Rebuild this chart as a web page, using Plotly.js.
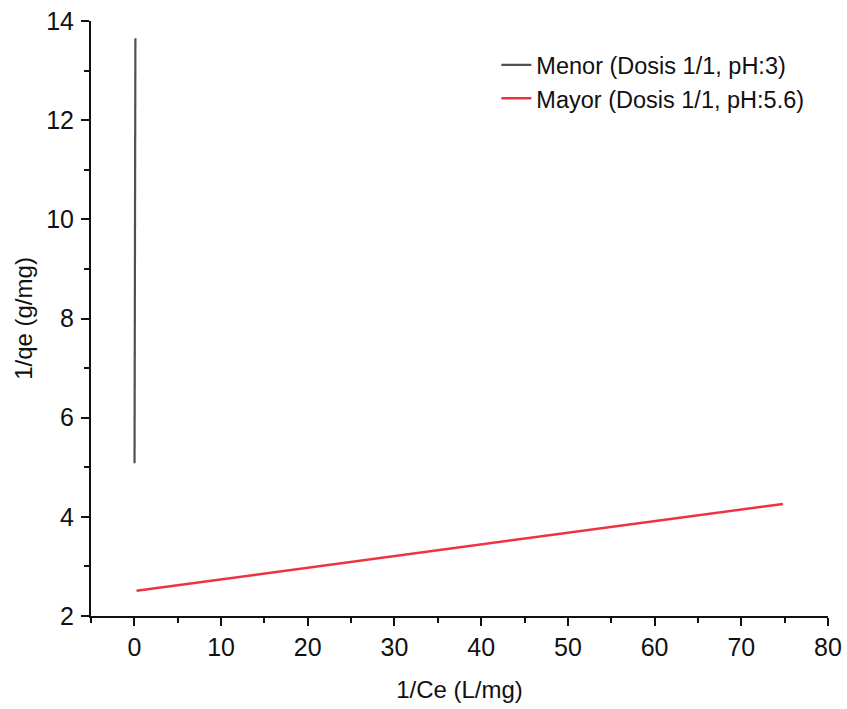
<!DOCTYPE html>
<html>
<head>
<meta charset="utf-8">
<script src="https://cdn.plot.ly/plotly-3.0.1.min.js"></script>
<style>html,body{margin:0;padding:0;background:#fff}#chart{width:847px;height:709px}</style>
</head>
<body>
<div id="chart"></div>
<script>
const seriesNames = ["Menor (Dosis 1/1, pH:3)", "Mayor (Dosis 1/1, pH:5.6)"];
const menorX = [0.02, 0.12];
const menorY = [5.08, 13.65];
const mayorX = [0.25, 74.8];
const mayorY = [2.51, 4.26];
const xTickVals = [0, 10, 20, 30, 40, 50, 60, 70, 80];
const yTickVals = [2, 4, 6, 8, 10, 12, 14];

const font = "Liberation Sans, Arial, sans-serif";
const traces = [
  {x: menorX, y: menorY, name: seriesNames[0], mode: "lines",
   line: {color: "#505050", width: 2.2}},
  {x: mayorX, y: mayorY, name: seriesNames[1], mode: "lines",
   line: {color: "#ee3340", width: 2.5}}
];
const layout = {
  width: 847, height: 709,
  margin: {l: 91, r: 19, t: 21, b: 93},
  paper_bgcolor: "#fff", plot_bgcolor: "#fff",
  font: {family: font, color: "#111"},
  showlegend: true,
  legend: {x: 0.55, y: 0.963, xanchor: "left", yanchor: "top",
    font: {family: font, size: 23.5, color: "#111"}, bgcolor: "rgba(0,0,0,0)"},
  xaxis: {
    range: [-5, 80], tickvals: xTickVals, ticks: "outside", ticklen: 8, tickwidth: 2,
    tickcolor: "#111", showline: true, linecolor: "#111", linewidth: 2,
    showgrid: false, zeroline: false, tickfont: {size: 25, family: font},
    minor: {dtick: 5, tick0: -5, ticks: "outside", ticklen: 5, tickwidth: 2, tickcolor: "#111", showgrid: false},
    title: {text: "1/Ce (L/mg)", font: {size: 24, family: font}, standoff: 21}
  },
  yaxis: {
    range: [2, 14], tickvals: yTickVals, ticks: "outside", ticklen: 8, tickwidth: 2,
    tickcolor: "#111", showline: true, linecolor: "#111", linewidth: 2,
    showgrid: false, zeroline: false, tickfont: {size: 25, family: font}, ticklabelstandoff: 2,
    minor: {dtick: 1, tick0: 2, ticks: "outside", ticklen: 5, tickwidth: 2, tickcolor: "#111", showgrid: false},
    title: {text: "1/qe (g/mg)", font: {size: 24, family: font}, standoff: 7}
  }
};
Plotly.newPlot("chart", traces, layout, {displayModeBar: false, staticPlot: true});
</script>
</body>
</html>
